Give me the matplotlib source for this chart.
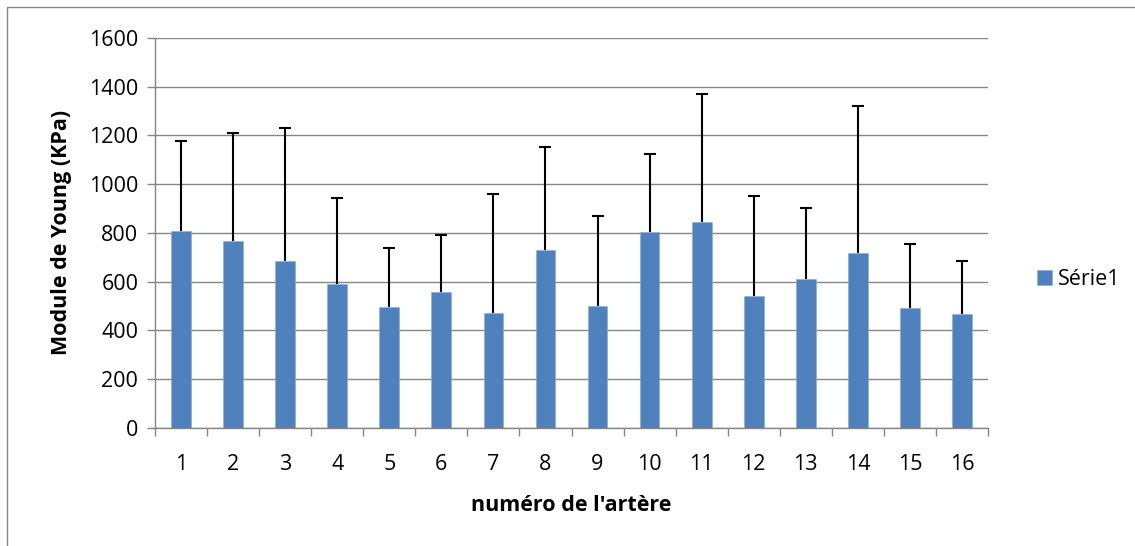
import numpy as np
import matplotlib.pyplot as plt
from matplotlib.patches import Rectangle

arteres = [str(i) for i in range(1, 17)]
module = [809, 765, 683, 589, 494, 558, 470, 728, 500, 805, 846, 540, 609, 719, 490, 466]
haut_err = [1177, 1209, 1231, 943, 738, 793, 961, 1153, 869, 1125, 1372, 953, 902, 1321, 754, 686]
yticks = [0, 200, 400, 600, 800, 1000, 1200, 1400, 1600]

err = np.array(haut_err) - np.array(module)
W, H = 1135, 546
grey = '#868686'
fs = 15.5

plt.rcParams['font.family'] = ['Open Sans', 'DejaVu Sans']
fig = plt.figure(figsize=(W/100, H/100), dpi=100)
fig.patches.append(Rectangle((7/W, -0.1), 1.2, (H-7)/H + 0.1, transform=fig.transFigure,
                             fill=False, edgecolor=grey, lw=1))
ax = fig.add_axes([155/W, (H-427.7)/H, 833/W, (427.7-38)/H])

x = np.arange(len(arteres))
ax.bar(x, module, width=0.38, color='#4F81BD', edgecolor='#8EAADB', lw=0.4, zorder=3, label='Série1')
eb = ax.errorbar(x, module, yerr=[np.zeros(len(err)), err], fmt='none', ecolor='black',
                 elinewidth=1.5, capsize=4, capthick=1.5, zorder=4)
eb[1][0].set_visible(False)  # pas de trait en bas

ax.set_xlim(-0.5, len(arteres) - 0.5)
ax.set_ylim(0, 1600)
ax.set_yticks(yticks)
ax.set_xticks(x)
ax.set_xticklabels(arteres)
ax.set_xticks(np.arange(-0.5, len(arteres)), minor=True)
ax.tick_params(axis='x', which='major', length=0, pad=19, labelsize=fs)
ax.tick_params(axis='x', which='minor', length=6, color=grey, width=1)
ax.tick_params(axis='y', length=6, color=grey, width=1, pad=6, labelsize=fs)
ax.yaxis.grid(True, color=grey, lw=1, zorder=0)
for s in ['top', 'right']:
    ax.spines[s].set_visible(False)
for s in ['left', 'bottom']:
    ax.spines[s].set_color(grey)
    ax.spines[s].set_linewidth(1)

ax.set_xlabel("numéro de l'artère", fontsize=fs, fontweight='bold', labelpad=14)
ax.set_ylabel('Module de Young (KPa)', fontsize=fs, fontweight='bold', labelpad=12)

ax.legend(loc='center left', bbox_to_anchor=(1.035, 0.38), frameon=False, fontsize=fs,
          handlelength=0.7, handleheight=0.7, handletextpad=0.3)

fig.savefig('out.png', dpi=100)
